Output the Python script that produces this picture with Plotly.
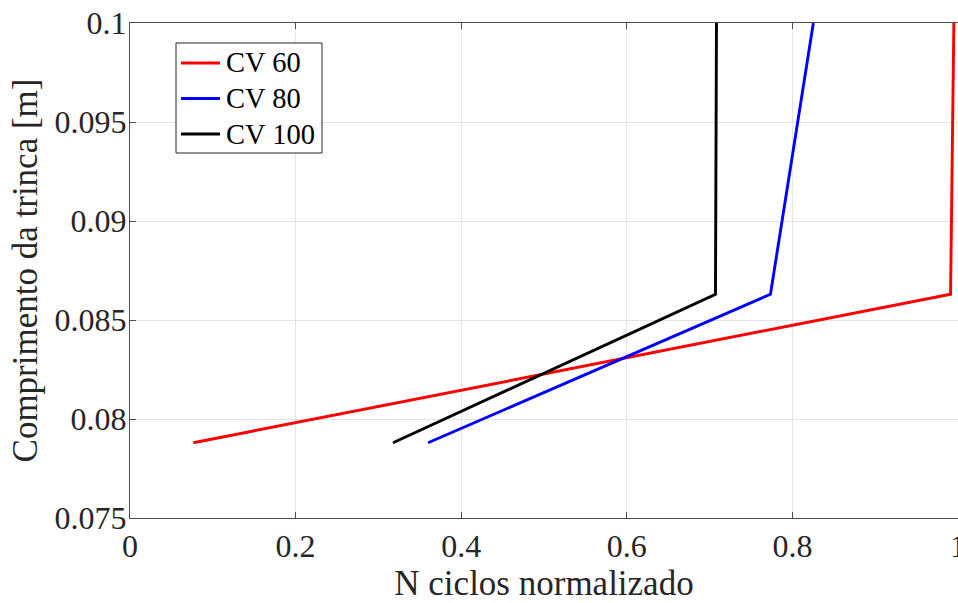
import plotly.graph_objects as go

# Normalised cycle count vs crack length for three CV cases
crack_len = [0.0788, 0.0863, 0.1]
cv60_n = [0.0764, 0.991, 0.995]
cv80_n = [0.360, 0.7735, 0.8253]
cv100_n = [0.3177, 0.7071, 0.7083]

series = [
    ("CV 60", cv60_n, "#ff0000"),
    ("CV 80", cv80_n, "#0000ff"),
    ("CV 100", cv100_n, "#000000"),
]

x_ticks = [0, 0.2, 0.4, 0.6, 0.8, 1]
x_tick_text = ["0", "0.2", "0.4", "0.6", "0.8", "1"]
y_ticks = [0.075, 0.08, 0.085, 0.09, 0.095, 0.1]
y_tick_text = ["0.075", "0.08", "0.085", "0.09", "0.095", "0.1"]

FONT = "Liberation Serif"
TXT = "#262626"

W, H = 958, 603
ML, MR, MT, MB = 130, 0, 23, 85
PW, PH = W - ML - MR, H - MT - MB


def px_x(px):
    return (px - ML) / PW


def px_y(py):
    return (H - MB - py) / PH


fig = go.Figure()
for name, xs, col in series:
    fig.add_trace(go.Scatter(
        x=xs, y=crack_len, mode="lines", name=name,
        line=dict(color=col, width=2.9), showlegend=False,
    ))

# Boxed legend in the upper-left corner of the axes
box_l, box_r, box_t, box_b = 176, 322, 43, 153
fig.add_shape(type="rect", xref="paper", yref="paper",
              x0=px_x(box_l), x1=px_x(box_r), y0=px_y(box_b), y1=px_y(box_t),
              line=dict(color="#262626", width=1), fillcolor="white", layer="above")
row_y = [63, 98.5, 134]
for (name, _, col), ry in zip(series, row_y):
    fig.add_shape(type="line", xref="paper", yref="paper",
                  x0=px_x(181), x1=px_x(220), y0=px_y(ry), y1=px_y(ry),
                  line=dict(color=col, width=2.9), layer="above")
    fig.add_annotation(xref="paper", yref="paper", x=px_x(224), y=px_y(ry),
                       xanchor="left", yanchor="middle", showarrow=False,
                       text=name, font=dict(family=FONT, size=28.5, color="#000000"))

fig.update_layout(
    width=W, height=H,
    margin=dict(l=ML, r=MR, t=MT, b=MB, autoexpand=False),
    paper_bgcolor="white", plot_bgcolor="white",
    font=dict(family=FONT, size=32, color=TXT),
    showlegend=False,
)

fig.update_xaxes(
    range=[0, 1], tickvals=x_ticks, ticktext=x_tick_text,
    showgrid=True, gridcolor="#e3e3e3", gridwidth=1,
    showline=True, linecolor="#4d4d4d", linewidth=1, mirror="ticks",
    ticks="inside", ticklen=6, tickcolor="#4d4d4d",
    zeroline=False, automargin=False, ticklabeloverflow="allow",
    tickfont=dict(family=FONT, size=32, color=TXT),
    title=dict(text="N ciclos normalizado", standoff=3,
               font=dict(family=FONT, size=35, color=TXT)),
)
fig.update_yaxes(
    range=[0.075, 0.1], tickvals=y_ticks, ticktext=y_tick_text,
    showgrid=True, gridcolor="#e3e3e3", gridwidth=1,
    showline=True, linecolor="#4d4d4d", linewidth=1, mirror=False,
    ticks="inside", ticklen=6, tickcolor="#4d4d4d",
    zeroline=False, automargin=False, ticklabelstandoff=-4,
    tickfont=dict(family=FONT, size=32, color=TXT),
    title=dict(text="Comprimento da trinca [m]", standoff=6,
               font=dict(family=FONT, size=35, color=TXT)),
)

fig.write_html("out.html")
